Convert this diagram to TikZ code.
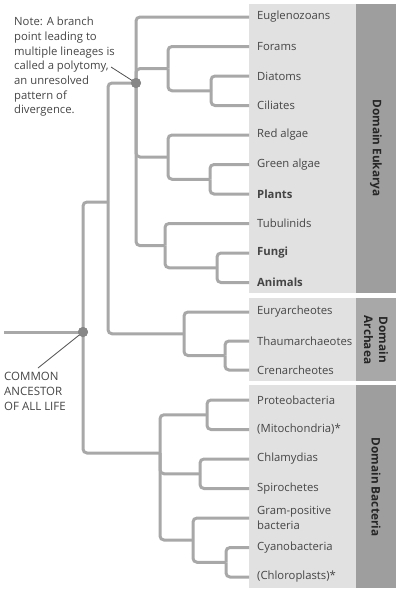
\documentclass[tikz,border=0pt]{standalone}
\usepackage{fontspec}
\setmainfont{Open Sans}
\definecolor{treegray}{HTML}{A8A8A8}
\definecolor{dotgray}{HTML}{878787}
\definecolor{lightpanel}{HTML}{E1E1E1}
\definecolor{darkpanel}{HTML}{9E9E9E}
\definecolor{labelgray}{HTML}{454545}
\definecolor{leadergray}{HTML}{505050}
\begin{document}
\begin{tikzpicture}[x=1pt,y=-1pt,
  tree/.style={draw=treegray,line width=3pt,rounded corners=4pt},
  leaf/.style={anchor=west,inner xsep=8pt,inner ysep=0pt,font=\fontsize{11.3}{12.5}\selectfont,text=labelgray,align=left},
  bleaf/.style={leaf,font=\fontsize{11.3}{12.5}\selectfont\bfseries},
  dom/.style={rotate=-90,font=\fontsize{11.8}{15}\selectfont\bfseries,text=black!85,align=center},
  dotnode/.style={circle,fill=dotgray,minimum size=10pt,inner sep=0pt},
  leader/.style={draw=leadergray,line width=0.8pt},
  note/.style={anchor=north west,inner sep=0pt,align=left,text=labelgray,font=\fontsize{11.3}{14.7}\selectfont}]
\useasboundingbox (0,0) rectangle (400,592);
% panels
\fill[lightpanel] (249,4) rectangle (356,293);
\fill[darkpanel] (356,4) rectangle (396,293);
\fill[lightpanel] (249,298) rectangle (356,381);
\fill[darkpanel!90] (356,298) rectangle (396,381);
\fill[lightpanel] (249,385) rectangle (356,588);
\fill[darkpanel] (356,385) rectangle (396,588);
\node[dom] (deuk) at (376,148) {Domain Eukarya};
\node[dom] (darc) at (376,340) {Domain\\Archaea};
\node[dom] (dbac) at (376,487) {Domain Bacteria};
% leaves
\node[leaf] (eug) at (249,17) {Euglenozoans};
\node[leaf] (for) at (249,46.5) {Forams};
\node[leaf] (dia) at (249,76) {Diatoms};
\node[leaf] (cil) at (249,105.5) {Ciliates};
\node[leaf] (red) at (249,135) {Red algae};
\node[leaf] (gre) at (249,164.5) {Green algae};
\node[bleaf] (pla) at (249,194) {Plants};
\node[leaf] (tub) at (249,223.5) {Tubulinids};
\node[bleaf] (fun) at (249,253) {Fungi};
\node[bleaf] (ani) at (249,282.5) {Animals};
\node[leaf] (eur) at (249,312) {Euryarcheotes};
\node[leaf] (tha) at (249,341) {Thaumarchaeotes};
\node[leaf] (cre) at (249,370) {Crenarcheotes};
\node[leaf] (pro) at (249,400) {Proteobacteria};
\node[leaf] (mit) at (249,429.5) {(Mitochondria)*};
\node[leaf] (chl) at (249,459) {Chlamydias};
\node[leaf] (spi) at (249,488.5) {Spirochetes};
\node[leaf,font=\fontsize{11.3}{15.5}\selectfont] (gra) at (249,518) {Gram-positive\\bacteria};
\node[leaf] (cya) at (249,547.5) {Cyanobacteria};
\node[leaf] (clo) at (249,577) {(Chloroplasts)*};
% internal points
\coordinate (stem) at (4,332);
\coordinate (root) at (83,332);
\coordinate (ea) at (108,202);
\coordinate (euk) at (136,83);
\coordinate (fd) at (168,68.6);
\coordinate (dc) at (211,90.75);
\coordinate (rg) at (168,157);
\coordinate (gp) at (210,179.25);
\coordinate (tfa) at (165,245.6);
\coordinate (fa) at (217,267.75);
\coordinate (arc) at (184,333.75);
\coordinate (tc) at (225,355.5);
\coordinate (bac) at (160,453);
\coordinate (pm) at (207,414.75);
\coordinate (cs) at (200,473.75);
\coordinate (gc) at (193,540);
\coordinate (cc) at (226,562.25);
% tree
\draw[tree] (stem) -- (root);
\draw[tree] (root) |- (ea);
\draw[tree] (root) |- (bac);
\draw[tree] (ea) |- (euk);
\draw[tree] (ea) |- (arc);
\draw[tree] (euk) |- (eug.west);
\draw[tree] (euk) |- (fd);
\draw[tree] (euk) |- (rg);
\draw[tree] (euk) |- (tfa);
\draw[tree] (fd) |- (for.west);
\draw[tree] (fd) |- (dc);
\draw[tree] (dc) |- (dia.west);
\draw[tree] (dc) |- (cil.west);
\draw[tree] (rg) |- (red.west);
\draw[tree] (rg) |- (gp);
\draw[tree] (gp) |- (gre.west);
\draw[tree] (gp) |- (pla.west);
\draw[tree] (tfa) |- (tub.west);
\draw[tree] (tfa) |- (fa);
\draw[tree] (fa) |- (fun.west);
\draw[tree] (fa) |- (ani.west);
\draw[tree] (arc) |- (eur.west);
\draw[tree] (arc) |- (tc);
\draw[tree] (tc) |- (tha.west);
\draw[tree] (tc) |- (cre.west);
\draw[tree] (bac) |- (pm);
\draw[tree] (bac) |- (cs);
\draw[tree] (bac) |- (gc);
\draw[tree] (pm) |- (pro.west);
\draw[tree] (pm) |- (mit.west);
\draw[tree] (cs) |- (chl.west);
\draw[tree] (cs) |- (spi.west);
\draw[tree] (gc) |- (gra.west);
\draw[tree] (gc) |- (cc);
\draw[tree] (cc) |- (cya.west);
\draw[tree] (cc) |- (clo.west);
% notes
\node[note] (notetext) at (14,17) {Note: A branch\\point leading to\\multiple lineages is\\called a polytomy,\\an unresolved\\pattern of\\divergence.};
\node[note,font=\fontsize{11.5}{15}\selectfont] (anc) at (4,372) {COMMON\\ANCESTOR\\OF ALL LIFE};
% dots
\node[dotnode] (eukdot) at (euk) {};
\node[dotnode] (rootdot) at (root) {};
\coordinate (notetip) at (111,67);
\draw[leader] (notetip) -- (eukdot.center);
\coordinate (anctip) at (38,368);
\draw[leader] (anctip) -- (rootdot.center);
\node[dotnode] at (euk) {};
\node[dotnode] at (root) {};
\end{tikzpicture}
\end{document}
